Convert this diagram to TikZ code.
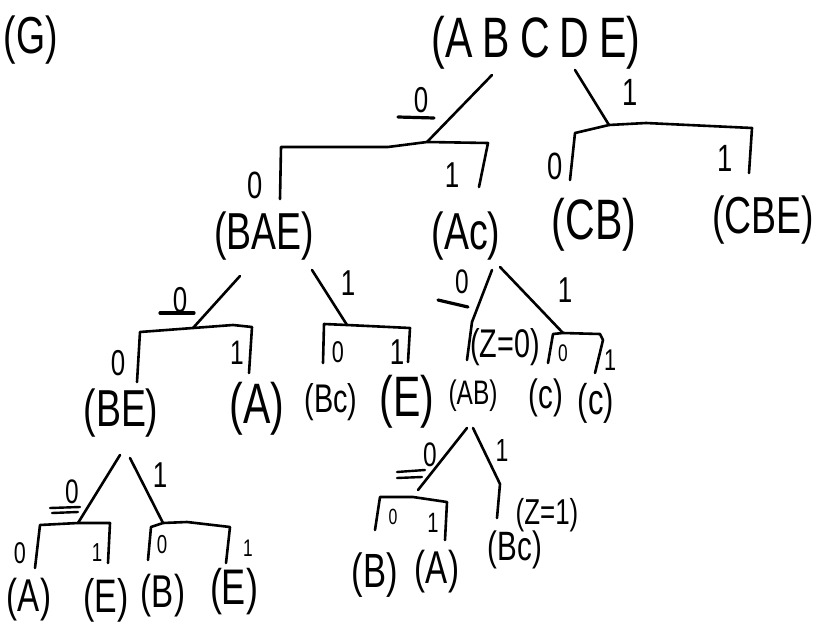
\documentclass[tikz,border=0pt]{standalone}
\usepackage{fontspec}
\setmainfont[FakeStretch=0.72]{Liberation Sans}
\begin{document}
\begin{tikzpicture}[x=1pt,y=-1pt,
  txt/.style={inner sep=0pt, font=\fontsize{#1}{#1}\selectfont},
  edge/.style={line width=2.6pt, line cap=round, line join=round},
  uline/.style={line width=3.2pt, line cap=round}]
\useasboundingbox (0,0) rectangle (816,626);

% ---------- tree nodes ----------
\node[txt=52] (G) at (31,40) {(G)};
\node[txt=57] (root) at (536,43) {(A\hspace{10pt}B\hspace{10pt}C\hspace{10pt}D\hspace{10pt}E)};

\node[txt=52] (BAE) at (264,236) {(BAE)};
\node[txt=52] (Ac) at (466,236) {(Ac)};
\node[txt=57] (CB) at (594,225) {(CB)};
\node[txt=52] (CBE) at (763,220) {(CBE)};

\node[txt=52] (BE) at (121,413) {(BE)};
\node[txt=57] (A1) at (257,409) {(A)};
\node[txt=40] (Bc1) at (331,402) {(Bc)};
\node[txt=57] (E1) at (407,402) {(E)};
\node[txt=40] (Z0) at (505,347) {(Z=0)};
\node[txt=34] (AB) at (473,396) {(AB)};
\node[txt=41] (c1) at (546,398) {(c)};
\node[txt=43] (c2) at (596,403) {(c)};

\node[txt=36] (Z1) at (547,515) {(Z=1)};
\node[txt=48] (B2) at (375,575) {(B)};
\node[txt=46] (A2) at (437,572) {(A)};
\node[txt=41] (Bc2) at (515,550) {(Bc)};

\node[txt=46] (A3) at (29,600) {(A)};
\node[txt=47] (E3) at (106,600) {(E)};
\node[txt=46] (B3) at (163,596) {(B)};
\node[txt=50] (E4) at (234,592) {(E)};

% ---------- branch labels ----------
\node[txt=36] (l-r0) at (421,100) {0};
\node[txt=38] (l-r1) at (630,92) {1};
\node[txt=38] (l-b1a) at (255,185) {0};
\node[txt=36] (l-b1b) at (452,175) {1};
\node[txt=38] (l-b2a) at (555,166) {0};
\node[txt=38] (l-b2b) at (725,158) {1};
\node[txt=36] (l-bae0) at (180,300) {0};
\node[txt=36] (l-bae1) at (348,283) {1};
\node[txt=36] (l-b3a) at (118,363) {0};
\node[txt=34] (l-b3b) at (237,353) {1};
\node[txt=30] (l-b4a) at (338,352) {0};
\node[txt=36] (l-b4b) at (397,352) {1};
\node[txt=34] (l-ac0) at (462,282) {0};
\node[txt=36] (l-ac1) at (565,290) {1};
\node[txt=24] (l-b5a) at (563,353) {0};
\node[txt=30] (l-b5b) at (610,360) {1};
\node[txt=34] (l-ab0) at (430,455) {0};
\node[txt=32] (l-ab1) at (502,450) {1};
\node[txt=22] (l-b6a) at (393,517) {0};
\node[txt=28] (l-b6b) at (433,523) {1};
\node[txt=34] (l-be0) at (72,492) {0};
\node[txt=36] (l-be1) at (160,475) {1};
\node[txt=30] (l-b7a) at (20,553) {0};
\node[txt=26] (l-b7b) at (97,553) {1};
\node[txt=26] (l-b8a) at (162,545) {0};
\node[txt=24] (l-b8b) at (248,548) {1};

% underlines
\draw[uline] (398,117) -- (434,118);
\draw[uline] (160,313) -- (194,313);
\draw[uline] (438,300) -- (468,307);
\draw[uline, line width=2.4pt] (397,472) -- (425,470);
\draw[uline, line width=2.4pt] (397,478) -- (422,477);
\draw[uline, line width=2.4pt] (50,508) -- (80,507);
\draw[uline, line width=2.4pt] (52,513) -- (78,512);

% ---------- connector coordinates ----------
\coordinate (root-l) at (492,75);
\coordinate (root-r) at (575,70);
\coordinate (b1-m) at (427,142);
\coordinate (b2-m) at (609,125);
\coordinate (BAE-l) at (240,276);
\coordinate (BAE-r) at (312,270);
\coordinate (b3-m) at (193,328);
\coordinate (b4-m) at (347,325);
\coordinate (Ac-l) at (492,270);
\coordinate (Ac-r) at (500,267);
\coordinate (Z0-in) at (467,360);
\coordinate (b5-m) at (563,333);
\coordinate (AB-l) at (467,428);
\coordinate (AB-r) at (473,428);
\coordinate (b6-m) at (418,490);
\coordinate (Bc2-in) at (497,518);
\coordinate (BE-l) at (120,455);
\coordinate (BE-r) at (130,458);
\coordinate (b7-m) at (78,523);
\coordinate (b8-m) at (163,523);

% ---------- edges ----------
\draw[edge] (root-l) -- (b1-m);
\draw[edge] (root-r) -- (b2-m);
\draw[edge] (280,199) -- (281,147) -- (388,147) -- (b1-m) -- (488,143) -- (479,187);
\draw[edge] (570,180) -- (575,133) -- (b2-m) -- (646,123) -- (752,128) -- (749,173);

\draw[edge] (BAE-l) -- (b3-m);
\draw[edge] (BAE-r) -- (b4-m);
\draw[edge] (137,382) -- (140,332) -- (b3-m) -- (233,325) -- (252,327) -- (249,373);
\draw[edge] (323,363) -- (324,324) -- (b4-m) -- (410,328) -- (408,362);

\draw[edge] (Ac-l) -- (472,322) -- (Z0-in);
\draw[edge] (Ac-r) -- (543,312) -- (b5-m);
\draw[edge] (548,363) -- (553,334) -- (b5-m) -- (600,334) -- (603,340) -- (595,373);

\draw[edge] (AB-l) -- (b6-m);
\draw[edge] (AB-r) -- (500,484) -- (Bc2-in);
\draw[edge] (375,530) -- (380,497) -- (413,497) -- (447,502) -- (445,540);

\draw[edge] (BE-l) -- (b7-m);
\draw[edge] (BE-r) -- (b8-m);
\draw[edge] (35,568) -- (40,525) -- (b7-m) -- (110,523) -- (108,563);
\draw[edge] (148,560) -- (151,527) -- (b8-m) -- (187,522) -- (230,527) -- (226,563);
\end{tikzpicture}
\end{document}
